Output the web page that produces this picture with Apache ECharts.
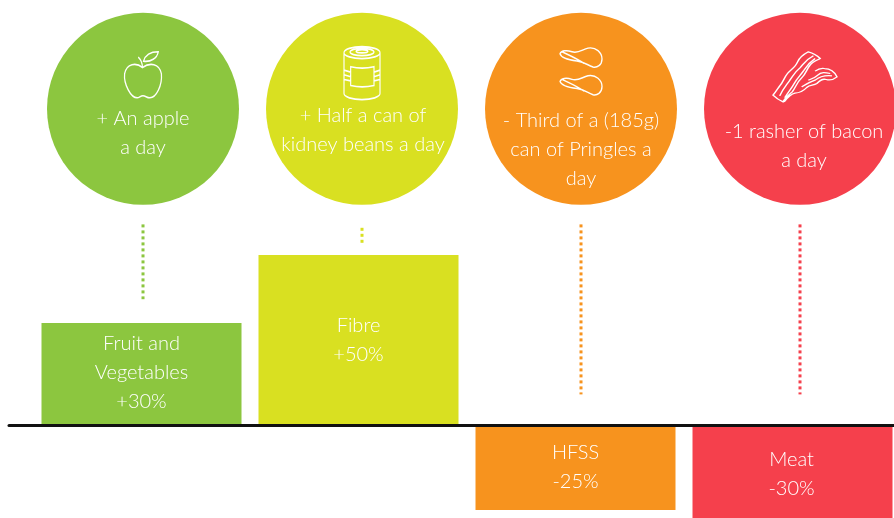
<!DOCTYPE html>
<html>
<head>
<meta charset="utf-8">
<style>html,body{margin:0;padding:0;background:#fff}#c{width:894px;height:518px}</style>
<script src="https://cdn.jsdelivr.net/npm/echarts@6/dist/echarts.min.js"></script>
</head>
<body>
<div id="c"></div>
<script>
const categories = ['Fruit and\nVegetables', 'Fibre', 'HFSS', 'Meat'];
const changes = [30, 50, -25, -30];
const changeLabels = ['+30%', '+50%', '-25%', '-30%'];
const equivalents = ['+ An apple\na day', '+ Half a can of\nkidney beans a day', '- Third of a (185g)\ncan of Pringles a\nday', '-1 rasher of bacon\na day'];
const connectorTop = [59, 58, 59, 59];
const connectorBottom = [37, 53.5, 9, 9];
const colors = ['#8CC63F', '#D9E021', '#F7931E', '#F5404C'];

const FONT = 'Lato';
const CIRCLE_Y = 93, ICON_Y = [103, 103.5, 104, 102.4];
const labelOffsets = [[0, 24], [1, 21], [0, 41], [4, 37]];
const barLabelOffsets = [[0, -1], [0, 0], [0, 0], [-1, -2]];
const iconOffsets = [[0, 0], [0, 0], [0, 0], [5, 0]];
const iconSizes = [[37, 46], [36, 53], [42, 47], [64, 50]];
const icons = [
  'path://M18 16C12 11 3 12 1 22C0 32 7 45 13 45C15 45 16 43 18.5 43C21 43 22 45 25 45C31 45 37 33 36 22C34 12 25 11 18 16ZM18 16C18 12 17 9 14 6M19 10C21 3 27 1 33 1C32 7 26 11 19 10Z',
  'path://M28 38A54 18 0 0 1 136 38A54 18 0 0 1 28 38ZM46 36A36 11 0 0 1 118 36A36 11 0 0 1 46 36ZM64 34A18 5 0 0 1 100 34A18 5 0 0 1 64 34ZM28 38L28 160A54 18 0 0 0 136 160L136 38M48 80Q82 88 118 80L118 136Q82 144 48 136ZM28 90L48 96M28 104L48 110M28 118L48 122M118 96L136 90M118 110L136 104M118 122L136 118',
  'path://M0 6C1 3 6 2 12 4C18 6 22 2 28 0.5C36 -1 42 5 42 11C42 17 37 20 33 19C27 17 25 14 17 13C9 12 1 10 0 6ZM2 4C8 7 16 10 24 15.5M0 33C1 30 6 29 12 31C18 33 22 29 28 27.5C36 26 42 32 42 38C42 44 37 47 33 46C27 44 25 41 17 40C9 39 1 37 0 33ZM2 31C8 34 16 37 24 42.5',
  'path://M130 20C115 28 105 35 98 50C92 65 80 72 68 85C58 97 55 112 45 122C38 132 32 142 25 150C35 160 45 166 55 170C60 158 72 150 82 140C92 128 95 112 110 98C122 88 125 72 135 60C142 50 155 46 165 40C155 30 145 24 130 20ZM45 152C55 130 65 120 75 105C85 92 90 80 105 68C115 58 120 45 145 32M60 158C70 140 80 130 88 115C96 100 105 92 115 78C122 68 128 55 150 40M150 78C158 72 168 68 178 70C195 70 208 80 215 95C205 103 195 107 183 103C172 100 165 105 155 115C145 122 135 118 125 127C115 138 105 143 90 144C80 146 70 155 58 170M130 105C142 100 150 98 158 90C168 80 180 82 195 85M110 125C122 118 135 110 150 105C162 95 178 90 200 92'
];

const barData = changes.map((v, i) => ({
  value: [i, v],
  itemStyle: { color: colors[i] },
  label: { formatter: categories[i] + '\n' + changeLabels[i], offset: barLabelOffsets[i] }
}));
const circleData = equivalents.map((t, i) => ({
  value: [i, CIRCLE_Y],
  itemStyle: { color: colors[i], opacity: 1 },
  label: { formatter: t, offset: labelOffsets[i] }
}));
const iconData = icons.map((p, i) => ({
  value: [i, ICON_Y[i]],
  symbol: p,
  symbolSize: iconSizes[i],
  symbolOffset: iconOffsets[i]
}));
const connectors = categories.map((c, i) => ({
  type: 'line',
  xAxisIndex: 1,
  silent: true,
  showSymbol: false,
  symbol: 'none',
  z: 1,
  lineStyle: { color: colors[i], width: 3, type: [3, 3], cap: 'butt' },
  data: [[i, connectorTop[i]], [i, connectorBottom[i]]]
}));

const chart = echarts.init(document.getElementById('c'), null, { renderer: 'canvas' });
chart.setOption({
  animation: false,
  backgroundColor: '#ffffff',
  grid: { left: 9, top: 0, width: 885, height: 527, containLabel: false, outerBoundsMode: 'none' },
  xAxis: [
    { type: 'value', min: -0.6106, max: 3.4677, z: 10, splitLine: { show: false }, axisTick: { show: false }, axisLabel: { show: false },
      axisLine: { show: true, onZero: true, lineStyle: { color: '#111', width: 3 } } },
    { type: 'value', show: false, min: -0.6119, max: 3.4292, splitLine: { show: false } }
  ],
  yAxis: { type: 'value', show: false, min: -30, max: 125, splitLine: { show: false } },
  series: [
    {
      type: 'bar', xAxisIndex: 0, barWidth: 200, z: 2, data: barData,
      label: { show: true, position: 'inside', color: '#fff', fontFamily: FONT, fontWeight: 300, fontSize: 20, lineHeight: 29 }
    },
    {
      type: 'scatter', xAxisIndex: 1, symbol: 'circle', symbolSize: 192, z: 3, data: circleData,
      label: { show: true, position: 'inside', color: '#fff', fontFamily: FONT, fontWeight: 300, fontSize: 20, lineHeight: 29 }
    },
    {
      type: 'scatter', xAxisIndex: 1, z: 4, data: iconData, silent: true,
      itemStyle: { color: 'transparent', borderColor: '#fff', borderWidth: 1.4, opacity: 1 }
    }
  ].concat(connectors)
});
</script>
</body>
</html>
